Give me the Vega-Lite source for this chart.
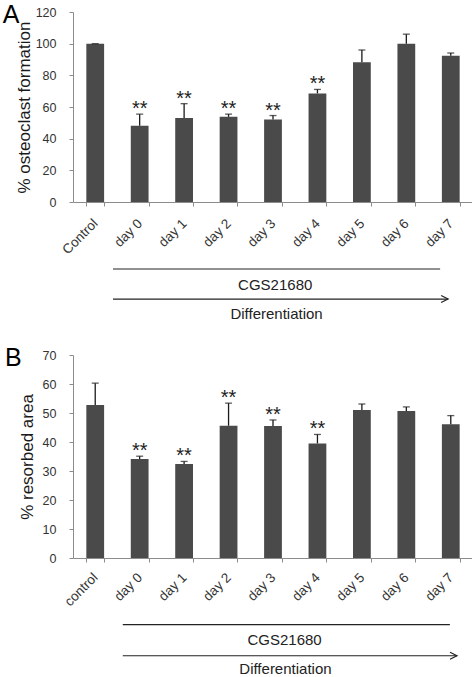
{
  "$schema": "https://vega.github.io/schema/vega-lite/v6.json",
  "background": "white",
  "padding": {"left": 2, "top": 3, "right": 2, "bottom": 0},
  "spacing": 24,
  "config": {
    "font": "Liberation Sans",
    "view": {"stroke": null},
    "axis": {
      "grid": false,
      "domainColor": "#8c8c8c",
      "tickColor": "#8c8c8c",
      "labelColor": "#333333",
      "titleColor": "#1a1a1a",
      "labelFont": "Liberation Sans",
      "titleFont": "Liberation Sans",
      "labelFontSize": 13,
      "titleFontSize": 17,
      "titleFontWeight": "normal",
      "tickSize": 4,
      "labelOverlap": false
    },
    "title": {"font": "Liberation Sans", "fontSize": 25, "fontWeight": "normal", "color": "#000000", "anchor": "start", "frame": "bounds"}
  },
  "vconcat": [
    {
      "title": {"text": "A", "dx": -13, "dy": 26},
      "width": 400,
      "height": 190,
      "data": {"values": [
        {"g": "Control", "v": 100, "e": 100, "sig": ""},
        {"g": "day 0", "v": 48.2, "e": 55.5, "sig": "**"},
        {"g": "day 1", "v": 53.1, "e": 62.1, "sig": "**"},
        {"g": "day 2", "v": 53.8, "e": 55.5, "sig": "**"},
        {"g": "day 3", "v": 52.1, "e": 54.6, "sig": "**"},
        {"g": "day 4", "v": 68.6, "e": 71.1, "sig": "**"},
        {"g": "day 5", "v": 88.3, "e": 96.0, "sig": ""},
        {"g": "day 6", "v": 100, "e": 106, "sig": ""},
        {"g": "day 7", "v": 92.3, "e": 94.1, "sig": ""}
      ]},
      "resolve": {"scale": {"x": "independent"}},
      "layer": [
        {
          "layer": [
            {
              "mark": {"type": "bar", "color": "#4a4a4a"},
              "encoding": {
                "x": {"field": "g", "type": "nominal", "sort": null,
                  "scale": {"paddingInner": 0.6, "paddingOuter": 0.3},
                  "axis": {"title": null, "labelAngle": -45, "labelAlign": "right", "labelBaseline": "middle", "tickBand": "extent", "labelPadding": 15, "labelFontSize": 13.5}},
                "y": {"field": "v", "type": "quantitative",
                  "scale": {"domain": [0, 120], "nice": false},
                  "axis": {"title": "% osteoclast formation", "values": [0, 20, 40, 60, 80, 100, 120], "tickCount": 7, "labelOverlap": false, "labelFlush": false, "labelPadding": 13, "titlePadding": 1.5, "labelFontSize": 12.5}}
              }
            },
            {
              "mark": {"type": "rule", "color": "#1a1a1a", "strokeWidth": 1.3},
              "encoding": {
                "x": {"field": "g", "type": "nominal", "sort": null},
                "y": {"field": "v", "type": "quantitative"},
                "y2": {"field": "e"}
              }
            },
            {
              "mark": {"type": "tick", "color": "#1a1a1a", "size": 7, "thickness": 1.3},
              "encoding": {
                "x": {"field": "g", "type": "nominal", "sort": null},
                "y": {"field": "e", "type": "quantitative"}
              }
            },
            {
              "mark": {"type": "text", "fontSize": 20, "baseline": "alphabetic", "dy": 1, "color": "#222222"},
              "encoding": {
                "x": {"field": "g", "type": "nominal", "sort": null},
                "y": {"field": "e", "type": "quantitative"},
                "text": {"field": "sig"}
              }
            }
          ]
        },
        {
          "data": {"values": [{}]},
          "layer": [
            {
              "mark": {"type": "rule", "color": "#222222", "strokeWidth": 1.2},
              "encoding": {
                "x": {"datum": 0.9, "type": "quantitative", "scale": {"domain": [0, 9], "nice": false, "zero": false}, "axis": null},
                "x2": {"datum": 8.26},
                "y": {"datum": -42.3, "type": "quantitative"}
              }
            },
            {
              "mark": {"type": "text", "text": "CGS21680", "fontSize": 15, "baseline": "middle", "color": "#222222"},
              "encoding": {
                "x": {"datum": 4.55, "type": "quantitative"},
                "y": {"datum": -52.4, "type": "quantitative"}
              }
            },
            {
              "mark": {"type": "rule", "color": "#222222", "strokeWidth": 1.2},
              "encoding": {
                "x": {"datum": 0.9, "type": "quantitative"},
                "x2": {"datum": 8.44},
                "y": {"datum": -61.3, "type": "quantitative"}
              }
            },
            {
              "mark": {"type": "point", "shape": "M-2,-1L0,0L-2,1", "filled": false, "size": 49, "stroke": "#222222", "strokeWidth": 1.2, "opacity": 1},
              "encoding": {
                "x": {"datum": 8.44, "type": "quantitative"},
                "y": {"datum": -61.3, "type": "quantitative"}
              }
            },
            {
              "mark": {"type": "text", "text": "Differentiation", "fontSize": 15, "baseline": "middle", "color": "#222222"},
              "encoding": {
                "x": {"datum": 4.58, "type": "quantitative"},
                "y": {"datum": -70.7, "type": "quantitative"}
              }
            }
          ]
        }
      ]
    },
    {
      "title": {"text": "B", "dx": -13, "dy": 26},
      "width": 400,
      "height": 203,
      "data": {"values": [
        {"g": "control", "v": 52.8, "e": 60.3, "sig": ""},
        {"g": "day 0", "v": 34.1, "e": 35.1, "sig": "**"},
        {"g": "day 1", "v": 32.4, "e": 33.3, "sig": "**"},
        {"g": "day 2", "v": 45.6, "e": 53.4, "sig": "**"},
        {"g": "day 3", "v": 45.5, "e": 47.6, "sig": "**"},
        {"g": "day 4", "v": 39.5, "e": 42.6, "sig": "**"},
        {"g": "day 5", "v": 51.0, "e": 53.1, "sig": ""},
        {"g": "day 6", "v": 50.7, "e": 52.1, "sig": ""},
        {"g": "day 7", "v": 46.1, "e": 49.1, "sig": ""}
      ]},
      "resolve": {"scale": {"x": "independent"}},
      "layer": [
        {
          "layer": [
            {
              "mark": {"type": "bar", "color": "#4a4a4a"},
              "encoding": {
                "x": {"field": "g", "type": "nominal", "sort": null,
                  "scale": {"paddingInner": 0.6, "paddingOuter": 0.3},
                  "axis": {"title": null, "labelAngle": -45, "labelAlign": "right", "labelBaseline": "middle", "tickBand": "extent", "labelPadding": 13, "labelFontSize": 13.5}},
                "y": {"field": "v", "type": "quantitative",
                  "scale": {"domain": [0, 70], "nice": false},
                  "axis": {"title": "% resorbed area", "values": [0, 10, 20, 30, 40, 50, 60, 70], "tickCount": 8, "labelOverlap": false, "labelFlush": false, "labelPadding": 13, "titlePadding": 6, "labelFontSize": 12.5}}
              }
            },
            {
              "mark": {"type": "rule", "color": "#1a1a1a", "strokeWidth": 1.3},
              "encoding": {
                "x": {"field": "g", "type": "nominal", "sort": null},
                "y": {"field": "v", "type": "quantitative"},
                "y2": {"field": "e"}
              }
            },
            {
              "mark": {"type": "tick", "color": "#1a1a1a", "size": 7, "thickness": 1.3},
              "encoding": {
                "x": {"field": "g", "type": "nominal", "sort": null},
                "y": {"field": "e", "type": "quantitative"}
              }
            },
            {
              "mark": {"type": "text", "fontSize": 20, "baseline": "alphabetic", "dy": 1, "color": "#222222"},
              "encoding": {
                "x": {"field": "g", "type": "nominal", "sort": null},
                "y": {"field": "e", "type": "quantitative"},
                "text": {"field": "sig"}
              }
            }
          ]
        },
        {
          "data": {"values": [{}]},
          "layer": [
            {
              "mark": {"type": "rule", "color": "#222222", "strokeWidth": 1.2},
              "encoding": {
                "x": {"datum": 1.12, "type": "quantitative", "scale": {"domain": [0, 9], "nice": false, "zero": false}, "axis": null},
                "x2": {"datum": 8.48},
                "y": {"datum": -23.0, "type": "quantitative"}
              }
            },
            {
              "mark": {"type": "text", "text": "CGS21680", "fontSize": 15, "baseline": "middle", "color": "#222222"},
              "encoding": {
                "x": {"datum": 4.76, "type": "quantitative"},
                "y": {"datum": -28.3, "type": "quantitative"}
              }
            },
            {
              "mark": {"type": "rule", "color": "#222222", "strokeWidth": 1.2},
              "encoding": {
                "x": {"datum": 1.12, "type": "quantitative"},
                "x2": {"datum": 8.64},
                "y": {"datum": -33.7, "type": "quantitative"}
              }
            },
            {
              "mark": {"type": "point", "shape": "M-2,-1L0,0L-2,1", "filled": false, "size": 49, "stroke": "#222222", "strokeWidth": 1.2, "opacity": 1},
              "encoding": {
                "x": {"datum": 8.64, "type": "quantitative"},
                "y": {"datum": -33.7, "type": "quantitative"}
              }
            },
            {
              "mark": {"type": "text", "text": "Differentiation", "fontSize": 15, "baseline": "middle", "color": "#222222"},
              "encoding": {
                "x": {"datum": 4.78, "type": "quantitative"},
                "y": {"datum": -38.3, "type": "quantitative"}
              }
            }
          ]
        }
      ]
    }
  ]
}
